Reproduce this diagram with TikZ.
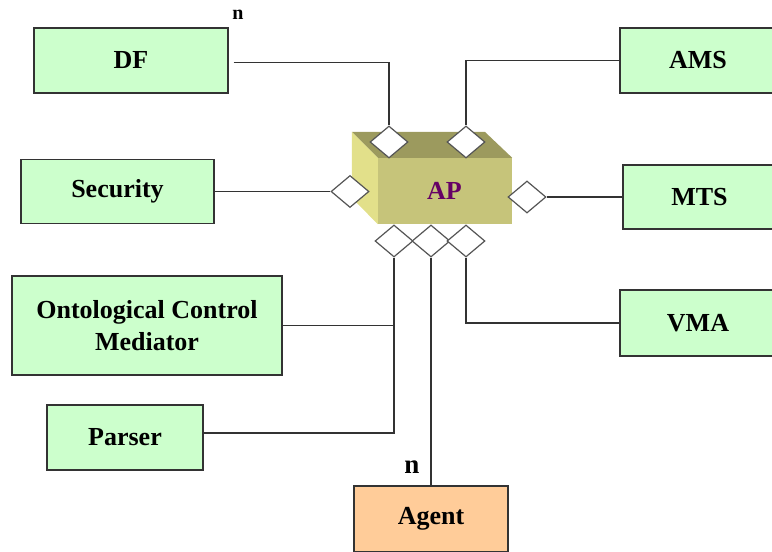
\documentclass[tikz,border=0pt]{standalone}
\usepackage{fontspec}
\setmainfont{Liberation Serif}
\usetikzlibrary{shapes.geometric}
\definecolor{boxgreen}{HTML}{CCFFCC}
\definecolor{boxorange}{HTML}{FFCC99}
\definecolor{apfront}{HTML}{C6C47A}
\definecolor{aptop}{HTML}{9C9A5E}
\definecolor{apside}{HTML}{E2E08A}
\definecolor{appurple}{HTML}{660066}
\definecolor{edge}{HTML}{333333}
\definecolor{portedge}{HTML}{555555}
\tikzset{
  module/.style={draw=edge, line width=1.2pt, fill=boxgreen, inner sep=0pt,
    align=center, font=\fontsize{26}{32}\selectfont\bfseries},
  agentbox/.style={module, fill=boxorange},
  port/.style={diamond, draw=portedge, line width=1.2pt, fill=white,
    inner sep=0pt, minimum width=38pt, minimum height=32pt},
  link/.style={draw=edge, line width=1.3pt},
  mult/.style={font=\bfseries, inner sep=0pt}
}
\begin{document}
\begin{tikzpicture}[x=1pt, y=-1pt]
\useasboundingbox (0,0) rectangle (772,552);

% access point: a box drawn in three faces
\node[fill=apfront, minimum width=134pt, minimum height=66pt, inner sep=0pt,
      text=appurple, font=\fontsize{26}{32}\selectfont\bfseries] (ap) at (445,191) {\hspace*{-1pt}AP};
\fill[aptop] (ap.north west) -- ++(-26,-26) -- ++(133,0) -- (ap.north east) -- cycle;
\fill[apside] (ap.north west) -- ++(-26,-26) -- ++(0,66) -- (ap.south west) -- cycle;

% ports on the access point
\node[port] (dT1) at (389,142) {};
\node[port] (dT2) at (466,142) {};
\node[port] (dL)  at (350,191.5) {};
\node[port] (dR)  at (527,197) {};
\node[port] (dB1) at (394,241) {};
\node[port] (dB2) at (431,241) {};
\node[port] (dB3) at (466,241) {};

% platform modules
\node[module, minimum width=194pt, minimum height=65pt] (df)     at (131,60.5)  {DF};
\node[module, minimum width=193pt, minimum height=64pt] (sec)    at (117.5,191.5) {Security};
\node[module, minimum width=270pt, minimum height=99pt] (ocm)    at (147,325.5) {Ontological Control\\Mediator};
\node[module, minimum width=156pt, minimum height=65pt] (parser) at (125,437.5) {Parser};
\node[module, minimum width=156pt, minimum height=65pt] (ams)    at (698,60.5)  {AMS};
\node[module, minimum width=153pt, minimum height=64pt] (mts)    at (699.5,197) {MTS};
\node[module, minimum width=156pt, minimum height=66pt] (vma)    at (698,323)   {VMA};
\node[agentbox, minimum width=154pt, minimum height=66pt] (agent) at (431,519)  {Agent};

% connectors
\draw[link] ([xshift=5pt,yshift=-2pt]df.east) -| (dT1.north);
\draw[link] (ams.west) -| (dT2.north);
\draw[link] (sec.east) -- (dL.west);
\draw[link] (mts.west) -- (dR.east);
\draw[link] (dB1.south) |- ([yshift=4.5pt]parser.east);
\draw[link] (ocm.east) -- (ocm.east -| dB1.south);
\draw[link] (dB2.south) -- (agent.north);
\draw[link] (dB3.south) |- (vma.west);

% multiplicities
\node[mult, font=\fontsize{20}{20}\selectfont\bfseries] (ndf) at (238,15) {n};
\node[mult, font=\fontsize{27}{27}\selectfont\bfseries] (nag) at (412,467) {n};
\end{tikzpicture}
\end{document}
